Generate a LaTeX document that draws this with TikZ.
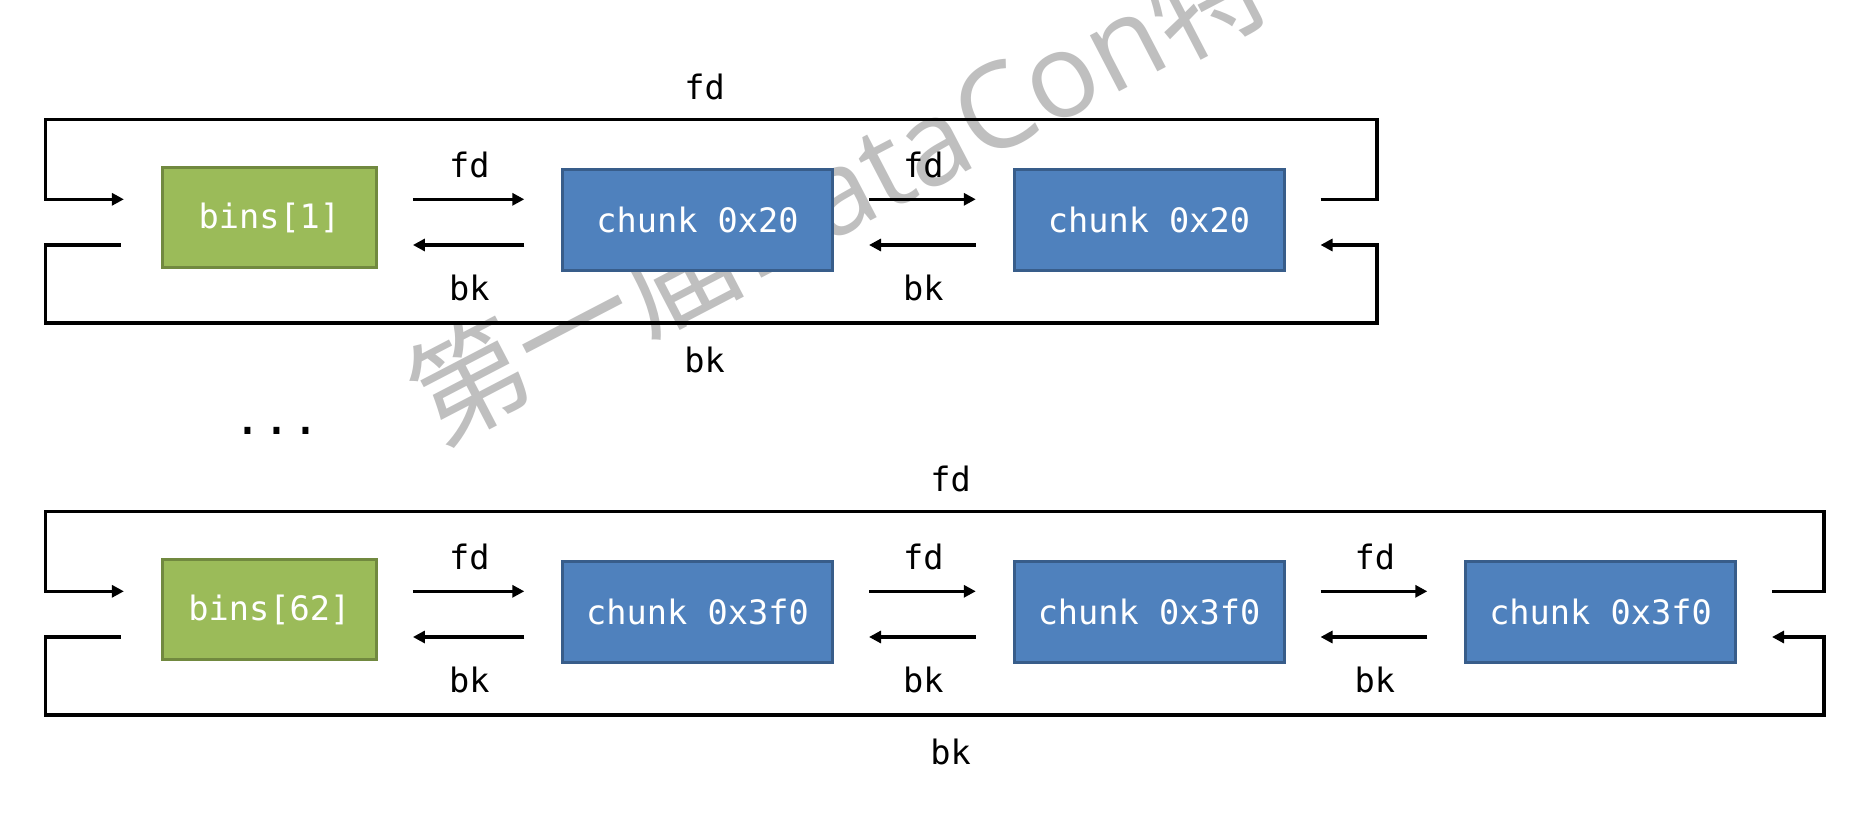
\documentclass[tikz,border=0pt]{standalone}
\usepackage{fontspec}
\setmonofont{DejaVu Sans Mono}
\newfontfamily\cjk{Noto Sans CJK SC}
\newfontfamily\wmlatin{Open Sans}
\usetikzlibrary{arrows.meta}
\definecolor{bingreen}{HTML}{9BBB59}
\definecolor{binedge}{HTML}{71893F}
\definecolor{chunkblue}{HTML}{4F81BD}
\definecolor{chunkedge}{HTML}{385D8A}
\definecolor{wmgray}{HTML}{BFBFBF}
\tikzset{
  mono/.style={font=\ttfamily\fontsize{33.6}{40}\selectfont},
  binbox/.style={mono, draw=binedge, fill=bingreen, line width=3pt, text=white, minimum width=214pt, minimum height=100.6pt},
  chunkbox/.style={mono, draw=chunkedge, fill=chunkblue, line width=3pt, text=white, minimum width=270pt, minimum height=101pt},
  lbl/.style={mono, inner sep=0pt, text=black},
  link/.style={line width=3.5pt, -{Triangle[length=12pt,width=12pt]}},
  fwd/.style={link, shorten <=35pt, shorten >=36.7pt},
  bwd/.style={link, shorten <=36.7pt, shorten >=35pt},
}
\begin{document}
\begin{tikzpicture}[x=1pt,y=-1pt]
    \useasboundingbox (0,0) rectangle (1864,832);
    \clip (0,0) rectangle (1864,832);
    % watermark behind everything
    \node[text=wmgray, font=\fontsize{118}{118}\selectfont, inner sep=0pt, anchor=base west, rotate=27.5] (wm) at (437,447)
        {{\cjk 第一届}{\wmlatin DataCon}{\cjk 特}};
    \coordinate (lrail) at (45.5,0);
    % bins[1]
    \coordinate (fdrow) at (0,199.3);
    \coordinate (bkrow) at (0,245);
    \coordinate (toprow) at (0,119.3);
    \coordinate (botrow) at (0,323);
    \coordinate (rrail) at (1377,0);
    \node[binbox] (b1) at (269.4,217.5) {bins[1]};
    \node[chunkbox] (c1) at (697.5,219.7) {chunk 0x20};
    \node[chunkbox] (c2) at (1149,219.7) {chunk 0x20};
    \draw[fwd] (b1.east |- fdrow) -- (c1.west |- fdrow) node[lbl, midway, above=19.3pt] {fd};
    \draw[bwd] (c1.west |- bkrow) -- (b1.east |- bkrow) node[lbl, midway, below=28pt] {bk};
    \draw[fwd] (c1.east |- fdrow) -- (c2.west |- fdrow) node[lbl, midway, above=19.3pt] {fd};
    \draw[bwd] (c2.west |- bkrow) -- (c1.east |- bkrow) node[lbl, midway, below=28pt] {bk};
    \draw[link, shorten <=35pt, shorten >=37pt] (c2.east |- fdrow) -- (rrail |- fdrow) -- (rrail |- toprow)
        -- node[lbl, pos=.505, above=17.6pt] {fd} (lrail |- toprow) -- (lrail |- fdrow) -- (b1.west |- fdrow);
    \draw[link, shorten <=40pt, shorten >=35pt] (b1.west |- bkrow) -- (lrail |- bkrow) -- (lrail |- botrow)
        -- node[lbl, pos=.495, below=22pt] {bk} (rrail |- botrow) -- (rrail |- bkrow) -- (c2.east |- bkrow);
    \node[lbl, font=\ttfamily\fontsize{48}{48}\selectfont, anchor=base] (dots) at (277,434.5) {...};
    % bins[62]
    \begin{scope}[yshift=-392pt]
        \coordinate (fdrow2) at (0,199.3);
        \coordinate (bkrow2) at (0,245);
        \coordinate (toprow2) at (0,119.3);
        \coordinate (botrow2) at (0,323);
        \coordinate (rrail2) at (1823.8,0);
        \node[binbox] (b62) at (269.4,217.5) {bins[62]};
        \node[chunkbox] (d1) at (697.5,219.7) {chunk 0x3f0};
        \node[chunkbox] (d2) at (1149,219.7) {chunk 0x3f0};
        \node[chunkbox] (d3) at (1600.5,219.7) {chunk 0x3f0};
        \draw[fwd] (b62.east |- fdrow2) -- (d1.west |- fdrow2) node[lbl, midway, above=19.3pt] {fd};
        \draw[bwd] (d1.west |- bkrow2) -- (b62.east |- bkrow2) node[lbl, midway, below=28pt] {bk};
        \draw[fwd] (d1.east |- fdrow2) -- (d2.west |- fdrow2) node[lbl, midway, above=19.3pt] {fd};
        \draw[bwd] (d2.west |- bkrow2) -- (d1.east |- bkrow2) node[lbl, midway, below=28pt] {bk};
        \draw[fwd] (d2.east |- fdrow2) -- (d3.west |- fdrow2) node[lbl, midway, above=19.3pt] {fd};
        \draw[bwd] (d3.west |- bkrow2) -- (d2.east |- bkrow2) node[lbl, midway, below=28pt] {bk};
        \draw[link, shorten <=35pt, shorten >=37pt] (d3.east |- fdrow2) -- (rrail2 |- fdrow2) -- (rrail2 |- toprow2)
            -- node[lbl, pos=.491, above=17.6pt] {fd} (lrail |- toprow2) -- (lrail |- fdrow2) -- (b62.west |- fdrow2);
        \draw[link, shorten <=40pt, shorten >=35pt] (b62.west |- bkrow2) -- (lrail |- bkrow2) -- (lrail |- botrow2)
            -- node[lbl, pos=.509, below=22pt] {bk} (rrail2 |- botrow2) -- (rrail2 |- bkrow2) -- (d3.east |- bkrow2);
    \end{scope}
\end{tikzpicture}
\end{document}
